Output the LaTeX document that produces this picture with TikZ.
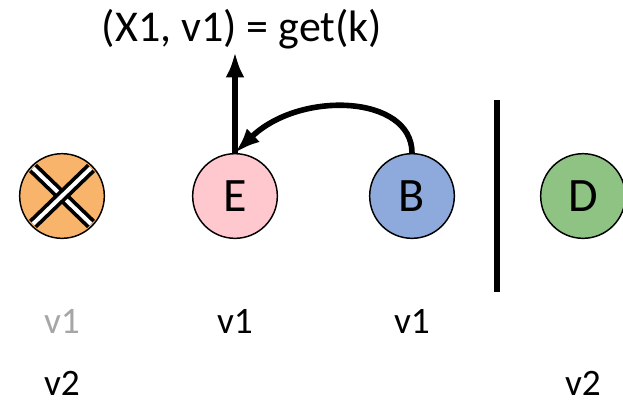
\documentclass[tikz,border=0pt]{standalone}
\usepackage{fontspec}
\setmainfont{Carlito}
\definecolor{NodeOrange}{RGB}{249,180,107}
\definecolor{NodePink}{RGB}{255,199,206}
\definecolor{NodeBlue}{RGB}{142,169,219}
\definecolor{NodeGreen}{RGB}{143,195,132}
\definecolor{StaleGray}{RGB}{166,166,166}
\usetikzlibrary{arrows.meta,positioning}

\begin{document}
\begin{tikzpicture}[
        x=0.75pt, y=-0.75pt, font=\fontsize{28}{32}\selectfont,
        replica/.style={draw, circle, line width=1.1pt, minimum size=63.5pt,
                        inner sep=0pt, font=\fontsize{36}{40}\selectfont},
        val/.style={inner sep=0pt, anchor=base},
        lnk/.style={line width=4.2pt, -{Latex[length=19pt,width=14pt]}},
        crossbar/.style={line width=2.8pt, double=white, double distance=3pt}
      ]
        \useasboundingbox (0,0) rectangle (623,405);
        \node[replica, fill=NodeOrange] (dead) at (62,196)  {};
        \node[replica, fill=NodePink]   (E)    at (235,196) {E};
        \node[replica, fill=NodeBlue]   (B)    at (412,196) {B};
        \node[replica, fill=NodeGreen]  (D)    at (583,196) {D};
        % crossed-out replica
        \draw[crossbar] ([shift={(-29,-28)}]dead.center) -- ([shift={(29,28)}]dead.center);
        \draw[crossbar] ([shift={(29,-28)}]dead.center) -- ([shift={(-29,28)}]dead.center);
        % partition
        \coordinate (cut top) at (497,100);
        \coordinate (cut bot) at (497,292);
        \draw[line width=3.8pt] (cut top) -- (cut bot);
        % stored values
        \node[val, text=StaleGray] (dv1) at (62,333)  {v1};
        \node[val]                 (ev1) at (235,333) {v1};
        \node[val]                 (bv1) at (412,333) {v1};
        \node[val]                 (dv2) at (62,395)  {v2};
        \node[val]                 (Dv2) at (583,395) {v2};
        % read
        \node[val, font=\fontsize{33}{38}\selectfont] (res) at (242,41) {(X1, v1) = get(k)};
        \coordinate (res tip) at (235,52);
        \draw[lnk] (B.north) .. controls (412,95) and (300,90) .. (E.north);
        \draw[lnk] (E.north) -- (res tip);
\end{tikzpicture}
\end{document}
